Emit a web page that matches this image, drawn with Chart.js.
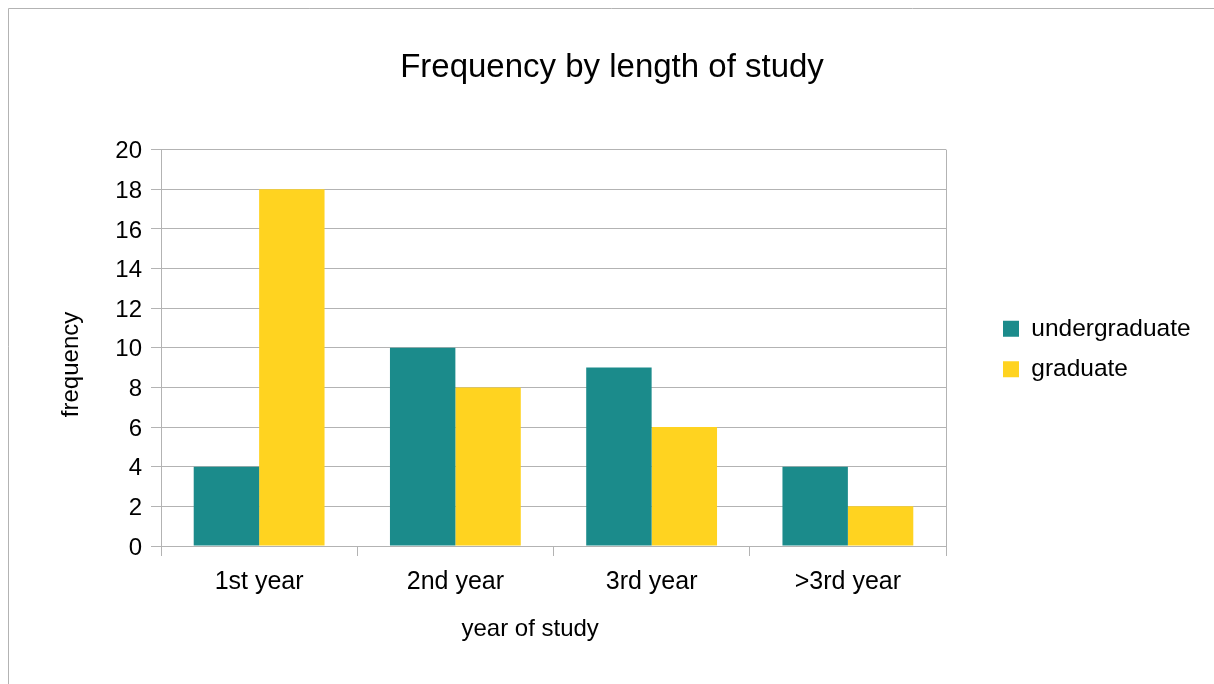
<!DOCTYPE html>
<html>
<head>
<meta charset="utf-8">
<title>Frequency by length of study</title>
<script src="https://cdn.jsdelivr.net/npm/chart.js@4.4.1/dist/chart.umd.min.js"></script>
<style>
  html, body { margin: 0; padding: 0; background: #ffffff; overflow: hidden; }
  #wrap { width: 1214px; height: 684px; }
  canvas { display: block; }
</style>
</head>
<body>
<div id="wrap"><canvas id="chart" width="1214" height="684"></canvas></div>
<script>
// Data
const categories = ['1st year', '2nd year', '3rd year', '>3rd year'];
const seriesNames = ['undergraduate', 'graduate'];
const undergraduate = [4, 10, 9, 4];
const graduate = [18, 8, 6, 2];
const yRange = [0, 20];
const yStep = 2;

// Styling
const FONT = '"Liberation Sans", Arial, sans-serif';
const GRID = '#b3b3b3';
const TEAL = '#1b8b8b';
const YELLOW = '#ffd320';

Chart.defaults.font.family = FONT;
Chart.defaults.color = '#000000';

// Axis titles sit a little off the centre of their axis; trailing spaces
// push the visible words towards the start of the line.
const padEnd = (text, n) => text + ' '.repeat(n);

// White page with the outer frame (top and left edges of the chart panel)
const framePlugin = {
  id: 'frame',
  beforeDraw(chart) {
    const ctx = chart.ctx;
    ctx.save();
    ctx.fillStyle = '#ffffff';
    ctx.fillRect(0, 0, chart.width, chart.height);
    ctx.strokeStyle = GRID;
    ctx.lineWidth = 1;
    ctx.beginPath();
    ctx.moveTo(8.5, chart.height);
    ctx.lineTo(8.5, 8.5);
    ctx.lineTo(chart.width, 8.5);
    ctx.stroke();
    ctx.restore();
  }
};

// Reserve a fixed band on the right for the legend, and indent its entries
const LEGEND_BAND = 268;
const LEGEND_INDENT = 41;
const legendPlacement = {
  id: 'legendPlacement',
  afterInit(chart) {
    const lg = chart.legend;
    const baseFit = lg.fit;
    lg.fit = function () {
      baseFit.call(this);
      this.width = LEGEND_BAND;
    };
  },
  afterLayout(chart) {
    chart.legend.left += LEGEND_INDENT;
  }
};

new Chart(document.getElementById('chart'), {
  type: 'bar',
  data: {
    labels: categories,
    datasets: [
      {
        label: seriesNames[0],
        data: undergraduate,
        backgroundColor: TEAL,
        categoryPercentage: 2 / 3,
        barPercentage: 1
      },
      {
        label: seriesNames[1],
        data: graduate,
        backgroundColor: YELLOW,
        categoryPercentage: 2 / 3,
        barPercentage: 1
      }
    ]
  },
  options: {
    responsive: false,
    animation: false,
    devicePixelRatio: 1,
    layout: { padding: { top: 14, left: 10, right: 0, bottom: 0 } },
    plugins: {
      tooltip: { enabled: false },
      title: {
        display: true,
        text: 'Frequency by length of study',
        color: '#000000',
        font: { family: FONT, size: 33, weight: 'normal' },
        padding: { top: 34, bottom: 62 }
      },
      legend: {
        position: 'right',
        align: 'center',
        labels: {
          boxWidth: 16,
          boxHeight: 16,
          padding: 16,
          color: '#000000',
          font: { family: FONT, size: 24.5 }
        }
      }
    },
    scales: {
      x: {
        grid: {
          offset: true,
          tickLength: 10,
          color: (c) => (c.type === 'tick' ? 'rgba(0,0,0,0)' : GRID),
          tickColor: GRID
        },
        border: { color: GRID },
        ticks: {
          padding: 11,
          color: '#000000',
          font: { family: FONT, size: 25 }
        },
        title: {
          display: true,
          text: padEnd('year of study', 7),
          color: '#000000',
          font: { family: FONT, size: 24 },
          padding: { top: 0, bottom: 40 }
        },
        afterFit(scale) { scale.height = 138; }
      },
      y: {
        min: yRange[0],
        max: yRange[1],
        grid: { color: GRID, tickLength: 10 },
        border: { color: GRID },
        ticks: {
          stepSize: yStep,
          padding: 9,
          labelOffset: 2,
          color: '#000000',
          font: { family: FONT, size: 24 }
        },
        title: {
          display: true,
          text: padEnd('frequency', 5),
          color: '#000000',
          font: { family: FONT, size: 24 },
          padding: { top: 47, bottom: 0 }
        },
        afterFit(scale) { scale.width = 151; }
      }
    }
  },
  plugins: [framePlugin, legendPlacement]
});
</script>
</body>
</html>
